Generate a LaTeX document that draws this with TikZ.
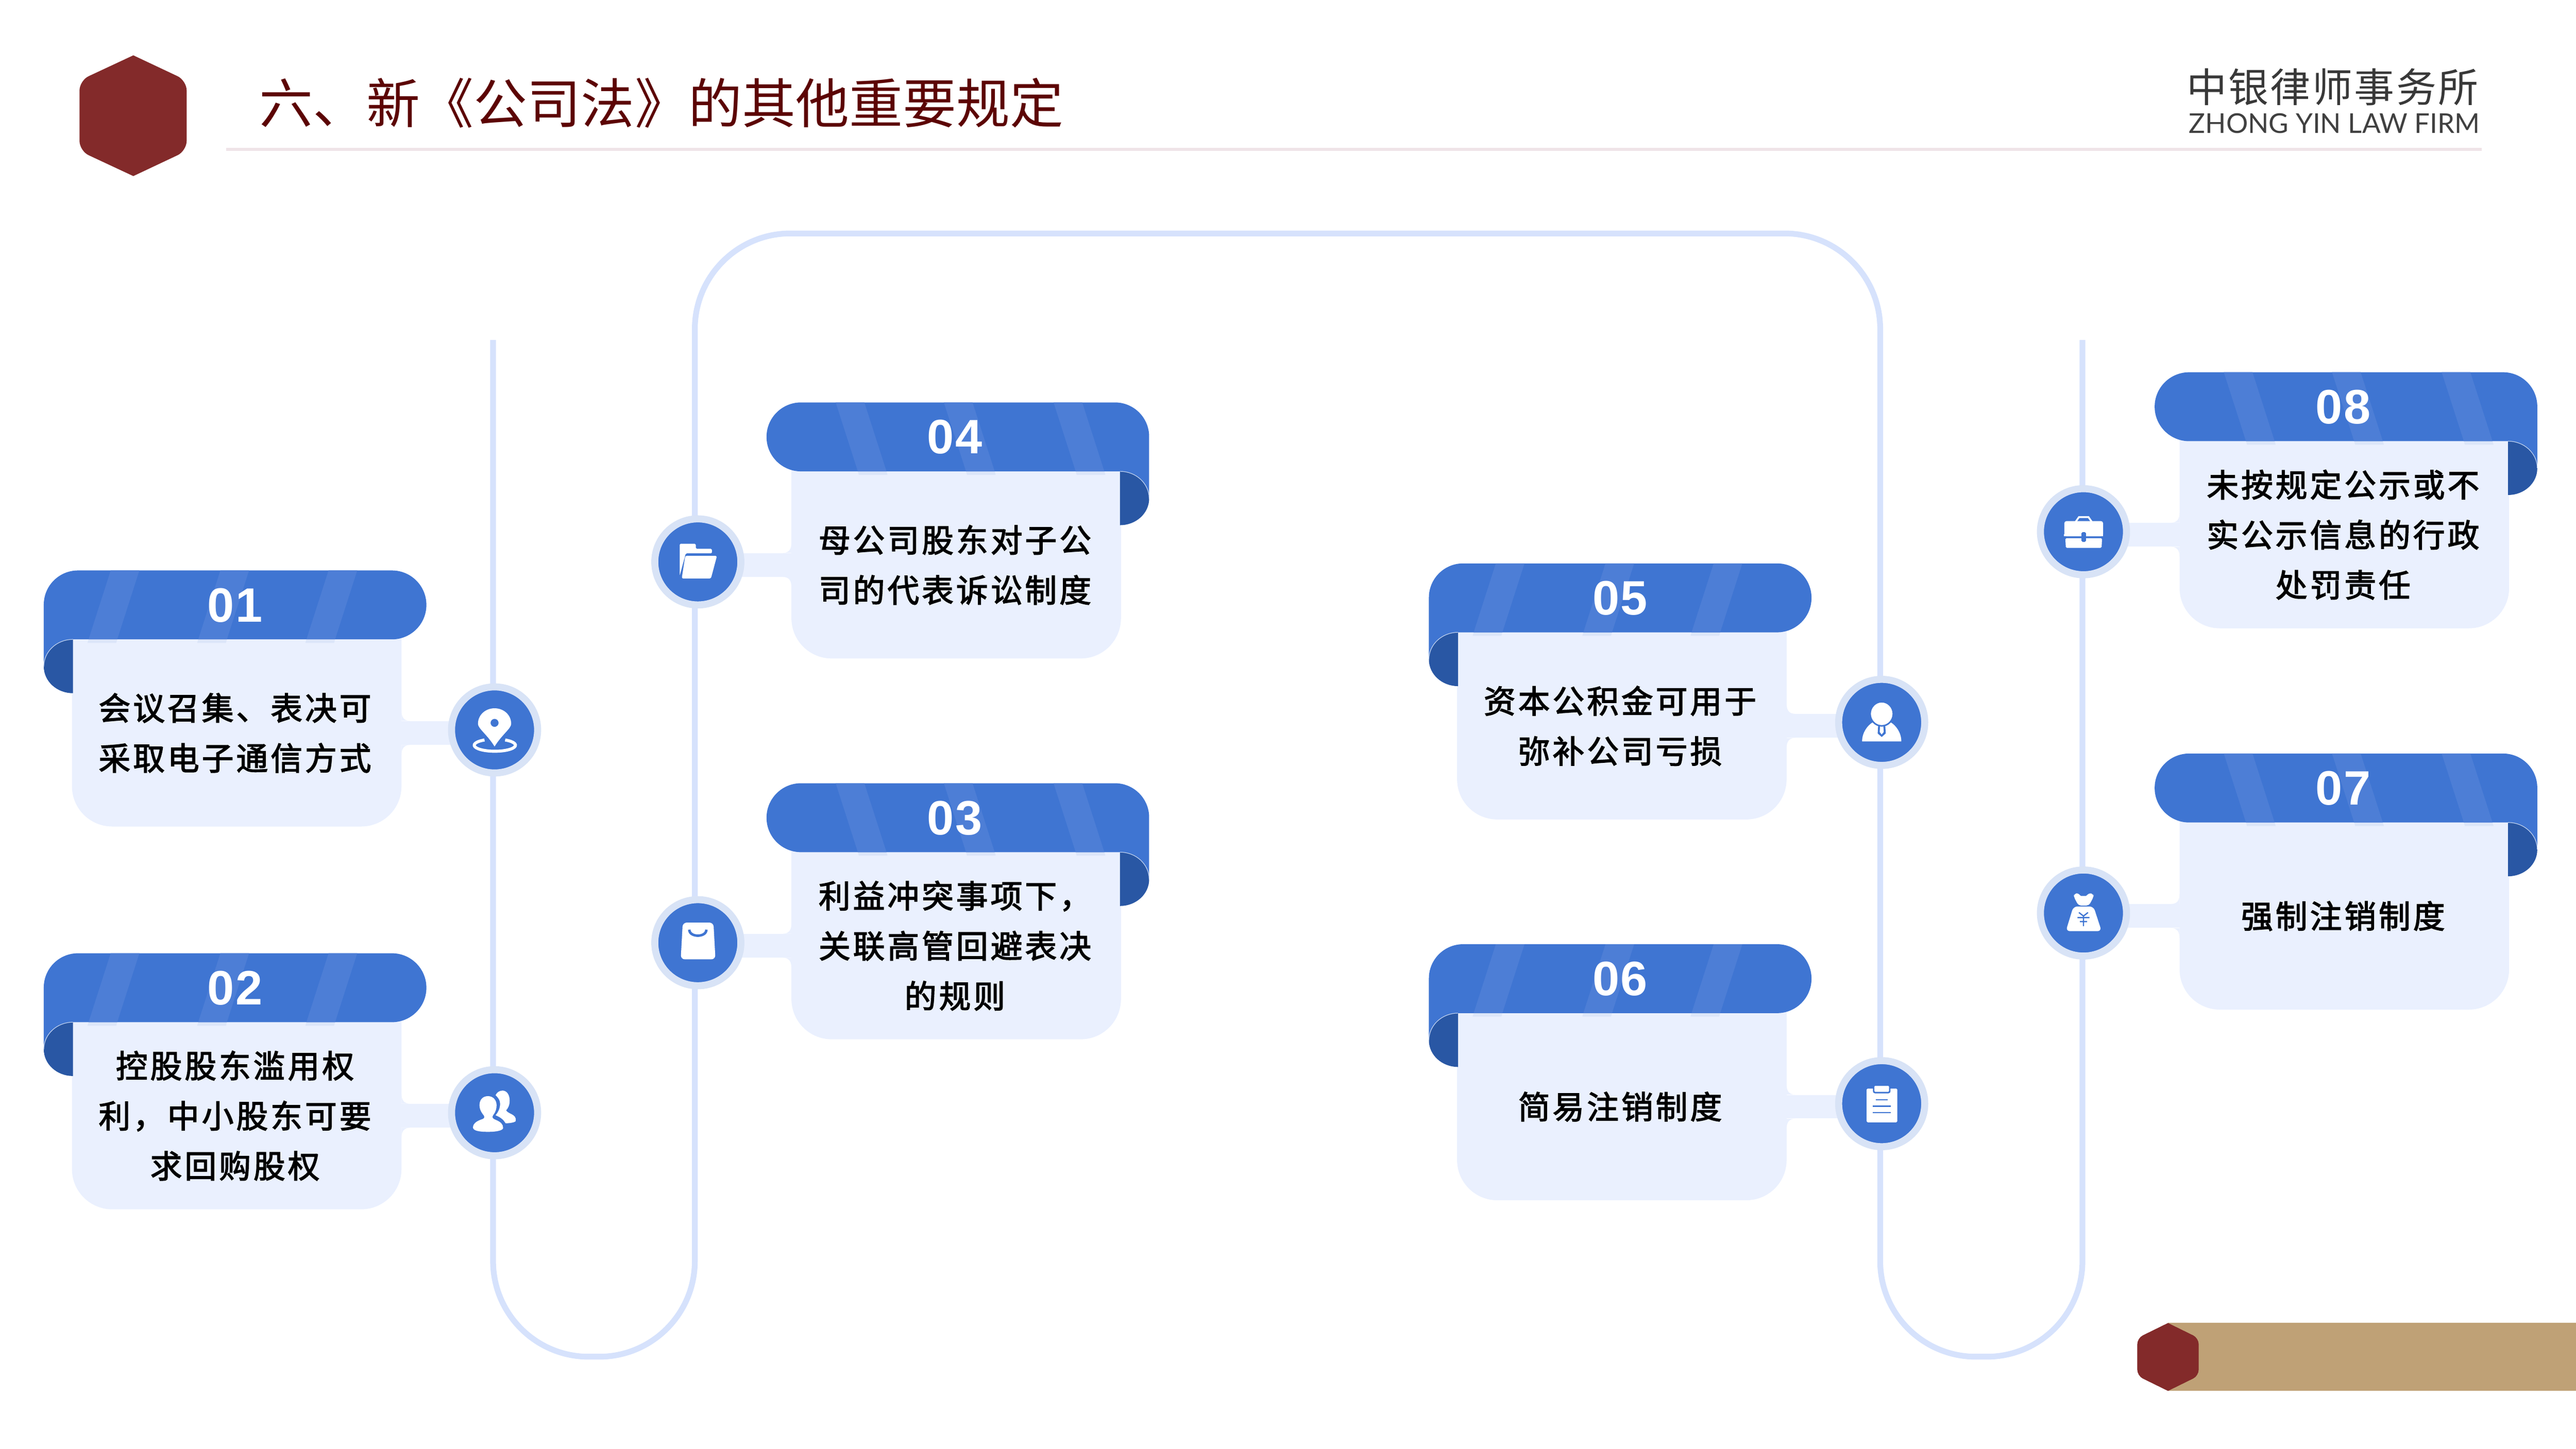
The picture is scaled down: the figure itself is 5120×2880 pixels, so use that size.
\documentclass[tikz,border=0pt]{standalone}
\usepackage{fontspec}
\setmainfont{Noto Sans CJK SC}
\newfontfamily\bodyfont[LetterSpace=8,FakeBold=2.5]{Noto Sans CJK SC}
\newfontfamily\logofont[LetterSpace=4.5]{Noto Sans CJK SC}
\newfontfamily\numfont[LetterSpace=3]{Liberation Sans}
\newfontfamily\firmfont{Lato}
\usetikzlibrary{backgrounds}

\definecolor{ribbonblue}{HTML}{3F75D2}
\definecolor{stripeblue}{HTML}{4D7ED6}
\definecolor{stripelow}{HTML}{DCE6F9}
\definecolor{curlblue}{HTML}{2957A4}
\definecolor{bodyblue}{HTML}{EAF0FE}
\definecolor{trackblue}{HTML}{D6E2FC}
\definecolor{ringblue}{HTML}{D8E3F6}
\definecolor{hexred}{HTML}{832A2A}
\definecolor{titlered}{HTML}{5C0404}
\definecolor{headpink}{HTML}{EFE4E8}
\definecolor{bandtan}{HTML}{BFA176}

\tikzset{
  trackline/.style={draw=trackblue,line width=.115cm,rounded corners=1.9cm},
  stubline/.style={draw=bodyblue,line width=.47cm},
  iconcirc/.style={circle,fill=ribbonblue,draw=ringblue,line width=.14cm,minimum size=1.71cm,inner sep=0pt},
  numlabel/.style={text=white,font=\numfont\bfseries\fontsize{27.3}{30}\selectfont},
  bodylabel/.style={align=center,text=black,font=\bodyfont\fontsize{18}{28.3}\selectfont},
  iconwhite/.style={fill=white,draw=none},
  iconcut/.style={draw=ribbonblue,line width=.03cm}
}

% #1 tag, #2 outer edge x, #3 top y, #4 direction, #5 number, #6 text
\newcommand{\ribboncard}[6]{
  \begin{scope}[shift={(#2,#3)},xscale=#4]
    \fill[bodyblue,rounded corners=.8cm] (56,40) rectangle (711,509);
    \fill[bodyblue] (711,279) .. controls (711,292) and (716,299) .. (728,299) -- (711,299) -- cycle;
    \fill[bodyblue] (711,367) .. controls (711,354) and (716,347) .. (728,347) -- (711,347) -- cycle;
    \foreach \sx in {133,351,566} {
      \fill[stripelow] ({\sx-44},137) -- ({\sx+13},137) -- ({\sx+11},144) -- ({\sx-46},144) -- cycle;
    }
    \fill[ribbonblue] (68,0) -- (692,0) arc[start angle=-90,end angle=90,radius=68.5] -- (58,137)
      arc[start angle=-90,end angle=-180,x radius=58,y radius=54] -- (0,68)
      arc[start angle=180,end angle=270,radius=68] -- cycle;
    \foreach \sx in {133,351,566} {
      \fill[stripeblue] (\sx,0) -- ({\sx+57},0) -- ({\sx+13},137) -- ({\sx-44},137) -- cycle;
    }
    \fill[curlblue] (58,137) arc[start angle=-90,end angle=-180,x radius=58,y radius=54]
      arc[start angle=180,end angle=90,x radius=58,y radius=53] -- cycle;
    \draw[white!70!ribbonblue,line width=.012cm] (58,137) arc[start angle=-90,end angle=-180,x radius=58,y radius=54];
    \coordinate (stub#1) at (711,323);
    \node[numlabel] (num#1) at ({383-3*#4},69) {#5};
    \node[bodylabel] (txt#1) at ({383-3*#4},323) {#6};
  \end{scope}
}

% #1 tag, #2 x, #3 y, #4 icon
\newcommand{\stepdot}[4]{
  \node[iconcirc] (circ#1) at (#2,#3) {};
  \begin{pgfonlayer}{background}
    \draw[stubline] (stub#1) -- (stub#1 -| circ#1);
  \end{pgfonlayer}
  \begin{scope}[shift={(circ#1)}]
    #4
  \end{scope}
}

\newcommand{\iconpin}{
  \fill[iconwhite,even odd rule] (0,33) .. controls (-14,10) and (-33,-3) .. (-33,-12) .. controls (-33,-30) and (-18,-43) .. (0,-43)
    .. controls (18,-43) and (33,-30) .. (33,-12) .. controls (33,-3) and (14,10) .. (0,33) -- cycle (0,-14) circle[radius=8];
  \draw[white,line width=.06cm] (21,20) arc[start angle=-60,end angle=240,x radius=41,y radius=12];
}
\newcommand{\iconpeople}{
  \fill[iconwhite] (-13,-33) .. controls (-25,-33) and (-30,-24) .. (-30,-15) .. controls (-30,-5) and (-24,2) .. (-21,6)
    .. controls (-19,11) and (-22,12) .. (-28,14) .. controls (-38,18) and (-43,23) .. (-43,29) .. controls (-43,36) and (-30,38) .. (-13,38)
    .. controls (5,38) and (17,35) .. (17,30) .. controls (17,23) and (12,18) .. (2,14) .. controls (-5,11) and (-5,9) .. (-3,5)
    .. controls (2,-1) and (4,-8) .. (4,-15) .. controls (4,-24) and (-2,-33) .. (-13,-33) -- cycle;
  \fill[iconwhite] (2,-35) .. controls (5,-41) and (10,-44) .. (16,-44) .. controls (24,-44) and (30,-36) .. (30,-24)
    .. controls (30,-14) and (26,-8) .. (23,-5) .. controls (24,-2) and (28,0) .. (34,3) .. controls (40,6) and (43,10) .. (42,16)
    .. controls (42,19) and (30,21) .. (22,21) .. controls (18,14) and (12,9) .. (2,5) .. controls (8,-2) and (11,-10) .. (11,-18)
    .. controls (11,-25) and (7,-30) .. (2,-35) -- cycle;
}
\newcommand{\iconbag}{
  \fill[iconwhite,rounded corners=.08cm] (-30,-40) -- (31,-40) -- (35,33) -- (-34,33) -- cycle;
  \draw[ribbonblue,line width=.05cm] (-17,-26) .. controls (-17,-10) and (17,-10) .. (17,-26);
}
\newcommand{\iconfolder}{
  \fill[iconwhite,rounded corners=.02cm] (-36,-36) -- (-4,-36) -- (-4,-26) -- (28,-26) -- (28,-17) -- (-24,-17) -- (-36,27) -- cycle;
  \fill[iconwhite,rounded corners=.03cm] (-25,-12) -- (38,-12) -- (26,33) -- (-32,33) -- cycle;
}
\newcommand{\iconman}{
  \fill[iconwhite] (-39,38) .. controls (-39,20) and (-28,6) .. (-18,0) .. controls (-10,4) and (10,4) .. (18,0)
    .. controls (28,6) and (39,20) .. (39,38) -- cycle;
  \fill[ribbonblue] (-7,5) -- (7,5) -- (8,22) -- (0,29) -- (-8,22) -- cycle;
  \fill[iconwhite] (-3,5) -- (3,5) -- (4,19) -- (0,24) -- (-4,19) -- cycle;
  \filldraw[fill=white,iconcut] (0,-17) ellipse[x radius=23,y radius=24];
}
\newcommand{\iconclip}{
  \fill[iconwhite,rounded corners=.02cm] (-30,-30) rectangle (31,37);
  \filldraw[fill=white,iconcut,rounded corners=.03cm] (-16,-37) rectangle (16,-22);
  \draw[ribbonblue,line width=.025cm] (-12,-8) -- (12,-8) (-18,5) -- (18,5) (-18,18) -- (18,18);
}
\newcommand{\iconmoney}{
  \fill[iconwhite,rounded corners=.05cm] (-19,-38) .. controls (-10,-40) and (-6,-34) .. (0,-34) .. controls (6,-34) and (10,-40) .. (20,-38)
    -- (20,-32) -- (11,-15) -- (-10,-15) -- (-19,-32) -- cycle;
  \fill[iconwhite,rounded corners=.08cm] (-20,-13) -- (20,-13) -- (36,36) -- (-35,36) -- cycle;
  \draw[ribbonblue,line width=.025cm] (-9,-1) -- (0,6) -- (9,-1) (-12,9) -- (12,9) (-7,17) -- (7,17) (0,6) -- (0,26);
}
\newcommand{\iconcase}{
  \fill[iconwhite,rounded corners=.04cm] (-38,-21) -- (39,-21) -- (39,9) -- (-38,9) -- cycle;
  \fill[iconwhite,rounded corners=.02cm] (-36,13) -- (37,13) -- (36,32) -- (-35,32) -- cycle;
  \draw[white,line width=.035cm] (-16,-19) -- (-9,-29) -- (10,-29) -- (17,-19);
  \fill[iconwhite] (-39,5) rectangle (39,9);
  \fill[ribbonblue,rounded corners=.02cm] (-4,1) rectangle (5,20);
}

\begin{document}
\begin{tikzpicture}[x=.01cm,y=-.01cm]
  \useasboundingbox (0,0) rectangle (5120,2880);

  \fill[hexred] (265,110) [rounded corners=.2cm] -- (371,160) -- (371,300) [sharp corners] -- (265,350)
    [rounded corners=.2cm] -- (158,300) -- (158,160) [sharp corners] -- cycle;
  \node[anchor=west,text=titlered,font=\fontsize{30.3}{34}\selectfont,inner sep=0pt] (title) at (515,205) {六、新《公司法》的其他重要规定};
  \draw[headpink,line width=.06cm] (450,297) -- (4933,297);
  \node[text=black!78,font=\logofont\fontsize{22.7}{26}\selectfont,inner sep=0pt] (firmcn) at (4636,173) {中银律师事务所};
  \node[text=black!75,font=\firmfont\fontsize{15.4}{18}\selectfont,inner sep=0pt] (firmen) at (4640,245) {ZHONG YIN LAW FIRM};

  \fill[bandtan] (4309,2630) rectangle (5120,2765);
  \fill[hexred] (4309,2630) [rounded corners=.12cm] -- (4370,2660) -- (4370,2735) [sharp corners] -- (4309,2765)
    [rounded corners=.12cm] -- (4248,2735) -- (4248,2660) [sharp corners] -- cycle;

  \coordinate (trackstart) at (980,676);
  \coordinate (trackend) at (4139,676);
  \draw[trackline] (trackstart) -- (980,2697) -- (1381,2697) -- (1381,464) -- (3737,464) -- (3737,2697) -- (4139,2697) -- (trackend);

  \ribboncard{01}{87}{1134}{1}{01}{会议召集、表决可\\采取电子通信方式}
  \ribboncard{02}{87}{1895}{1}{02}{控股股东滥用权\\利，中小股东可要\\求回购股权}
  \ribboncard{03}{2284}{1557}{-1}{03}{利益冲突事项下，\\关联高管回避表决\\的规则}
  \ribboncard{04}{2284}{800}{-1}{04}{母公司股东对子公\\司的代表诉讼制度}
  \ribboncard{05}{2840}{1120}{1}{05}{资本公积金可用于\\弥补公司亏损}
  \ribboncard{06}{2840}{1877}{1}{06}{简易注销制度}
  \ribboncard{07}{5043}{1498}{-1}{07}{强制注销制度}
  \ribboncard{08}{5043}{740}{-1}{08}{未按规定公示或不\\实公示信息的行政\\处罚责任}

  \stepdot{01}{983}{1451}{\iconpin}
  \stepdot{02}{983}{2212}{\iconpeople}
  \stepdot{03}{1387}{1874}{\iconbag}
  \stepdot{04}{1387}{1117}{\iconfolder}
  \stepdot{05}{3740}{1436}{\iconman}
  \stepdot{06}{3740}{2194}{\iconclip}
  \stepdot{07}{4141}{1815}{\iconmoney}
  \stepdot{08}{4141}{1057}{\iconcase}
\end{tikzpicture}
\end{document}
